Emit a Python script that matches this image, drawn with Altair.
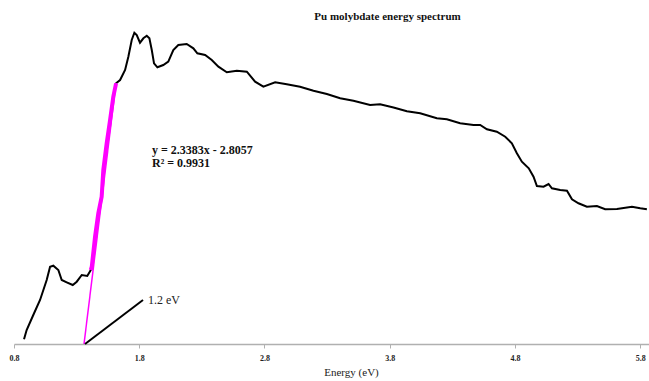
import altair as alt
import pandas as pd

# Spectrum (energy in eV, intensity in arbitrary units)
energy = [0.880, 0.901, 0.954, 1.008, 1.061, 1.088, 1.114, 1.154, 1.181, 1.221, 1.269, 1.301,
          1.341, 1.385, 1.413, 1.421, 1.447, 1.473, 1.500, 1.513, 1.540, 1.567, 1.593, 1.615,
          1.647, 1.687, 1.713, 1.740, 1.761, 1.780, 1.806, 1.833, 1.860, 1.881, 1.900, 1.918,
          1.945, 1.992, 2.032, 2.072, 2.112, 2.179, 2.232, 2.264, 2.326, 2.379, 2.432, 2.499,
          2.579, 2.659, 2.725, 2.791, 2.885, 2.978, 3.084, 3.191, 3.298, 3.404, 3.510, 3.643,
          3.723, 3.830, 3.937, 4.043, 4.176, 4.256, 4.362, 4.469, 4.522, 4.576, 4.655, 4.722,
          4.775, 4.815, 4.855, 4.910, 4.948, 4.975, 5.028, 5.068, 5.095, 5.161, 5.215, 5.255,
          5.307, 5.374, 5.454, 5.520, 5.614, 5.734, 5.800, 5.853]
intensity = [0.047, 0.14, 0.29, 0.44, 0.64, 0.773, 0.783, 0.74, 0.64, 0.617, 0.59, 0.623,
             0.69, 0.68, 0.74, 0.773, 1.073, 1.307, 1.473, 1.74, 2.007, 2.24, 2.473, 2.607,
             2.64, 2.74, 2.873, 3.04, 3.113, 3.09, 3.013, 3.057, 3.083, 3.057, 2.94, 2.807,
             2.767, 2.79, 2.823, 2.94, 2.99, 3.0, 2.957, 2.907, 2.89, 2.84, 2.773, 2.717,
             2.733, 2.723, 2.623, 2.573, 2.617, 2.597, 2.573, 2.533, 2.50, 2.457, 2.433, 2.39,
             2.397, 2.365, 2.327, 2.307, 2.257, 2.247, 2.207, 2.19, 2.19, 2.147, 2.123, 2.073,
             2.007, 1.907, 1.823, 1.757, 1.673, 1.58, 1.573, 1.60, 1.557, 1.54, 1.533, 1.447,
             1.407, 1.373, 1.38, 1.347, 1.35, 1.373, 1.357, 1.347]

# Fitted (highlighted) region of the edge
fit_energy = [1.413, 1.421, 1.447, 1.473, 1.500, 1.513, 1.540, 1.567, 1.593, 1.615]
fit_intensity = [0.74, 0.773, 1.073, 1.307, 1.473, 1.74, 2.007, 2.24, 2.473, 2.607]

# Linear trendline endpoints
trend_energy = [1.359, 1.615]
trend_intensity = [0.0, 2.61]

# Pointer to the band gap value
pointer_energy = [1.367, 1.830]
pointer_intensity = [0.0, 0.44]

gap_label = "1.2 eV"
gap_label_pos = (1.854, 0.44)
eq_lines = ["y = 2.3383x - 2.8057", "R\u00b2 = 0.9931"]
eq_pos = (1.902, [1.94, 1.81])

x_ticks = [0.8, 1.8, 2.8, 3.8, 4.8, 5.8]

serif = "Liberation Serif"

spec_df = pd.DataFrame({"E": energy, "I": intensity})
fit_df = pd.DataFrame({"E": fit_energy, "I": fit_intensity})
trend_df = pd.DataFrame({"E": trend_energy, "I": trend_intensity})
ptr_df = pd.DataFrame({"E": pointer_energy, "I": pointer_intensity})
lab_df = pd.DataFrame({"E": [gap_label_pos[0]], "I": [gap_label_pos[1]], "t": [gap_label]})
eq_df = pd.DataFrame({"E": [eq_pos[0]] * 2, "I": eq_pos[1], "t": eq_lines})

xscale = alt.Scale(domain=[0.8, 5.87], nice=False, zero=False)
yscale = alt.Scale(domain=[0, 3.2], nice=False, zero=False)

xaxis = alt.Axis(values=x_ticks, format=".1f", grid=False, domainColor="#b0b0b0",
                 domainWidth=1.5, tickColor="#b0b0b0", tickSize=4, tickWidth=1,
                 labelFont=serif, labelFontSize=8, labelFontWeight="bold", labelColor="#222",
                 labelPadding=6, title="Energy (eV)", titleFont=serif, titleFontSize=11,
                 titleFontWeight="normal", titleColor="#222", titleX=337, titleY=28,
                 titleBaseline="middle", labelFlush=False)

spec = alt.Chart(spec_df).mark_line(color="black", strokeWidth=2).encode(
    x=alt.X("E:Q", scale=xscale, axis=xaxis),
    y=alt.Y("I:Q", scale=yscale, axis=None),
)
trend = alt.Chart(trend_df).mark_line(color="#ff00ff", strokeWidth=1.5).encode(
    x="E:Q", y="I:Q")
fit = alt.Chart(fit_df).mark_line(color="#ff00ff", strokeWidth=4).encode(
    x="E:Q", y="I:Q")
ptr = alt.Chart(ptr_df).mark_line(color="black", strokeWidth=2).encode(
    x="E:Q", y="I:Q")
lab = alt.Chart(lab_df).mark_text(align="left", baseline="middle", font=serif,
                                  fontSize=12, color="#222", dx=2).encode(
    x="E:Q", y="I:Q", text="t:N")
eq = alt.Chart(eq_df).mark_text(align="left", baseline="middle", font=serif,
                                fontSize=12, fontWeight="bold", color="#111").encode(
    x="E:Q", y="I:Q", text="t:N")

chart = alt.layer(spec, trend, fit, ptr, lab, eq).properties(
    width=635, height=320,
    title=alt.TitleParams("Pu molybdate energy spectrum", font=serif, fontSize=11,
                          fontWeight="bold", color="#111", anchor="middle", dx=56, offset=2),
    autosize=alt.AutoSizeParams(type="none"),
    padding={"left": 14, "top": 24, "right": 0, "bottom": 37},
).configure(background="white").configure_view(stroke=None)

chart.save("out.html", embed_options={"renderer": "svg", "actions": False})
